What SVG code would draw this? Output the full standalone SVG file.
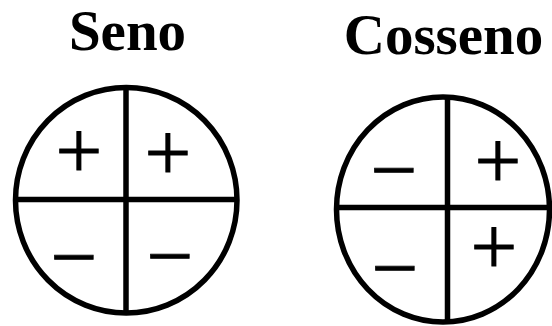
<svg xmlns="http://www.w3.org/2000/svg" width="552" height="326" viewBox="0 0 552 326">
<style>
.title{font-family:"Liberation Serif","Times New Roman",serif;font-weight:bold;font-size:57px;fill:#000;text-anchor:middle}
.sign{font-family:"Liberation Serif","Times New Roman",serif;font-size:83px;fill:#000;stroke:#000;stroke-width:0.8;text-anchor:middle}
.ring{fill:none;stroke:#000;stroke-width:5.5}
.axis{stroke:#000;stroke-width:5.5;fill:none}
</style>
<rect width="552" height="326" fill="#fff"/>
<g id="seno">
<text class="title" x="127.5" y="49.5">Seno</text>
<ellipse class="ring" cx="126.25" cy="200.25" rx="110.75" ry="112.75"/>
<text class="sign" x="79" y="178">+</text>
<text class="sign" x="168" y="180">+</text>
<text class="sign" x="74" y="285">−</text>
<text class="sign" x="170" y="283.5">−</text>
</g>
<g id="cosseno">
<text class="title" x="443.5" y="54">Cosseno</text>
<ellipse class="ring" cx="443" cy="209.5" rx="106.5" ry="112.5"/>
<text class="sign" x="394" y="197.5">−</text>
<text class="sign" x="498" y="188">+</text>
<text class="sign" x="395" y="295.5">−</text>
<text class="sign" x="494" y="273.5">+</text>
</g>
<g id="connectors">
<line class="axis" x1="126" y1="87.5" x2="126" y2="313"/>
<line class="axis" x1="15.5" y1="199.5" x2="237" y2="199.5"/>
<line class="axis" x1="447.5" y1="97" x2="447.5" y2="322"/>
<line class="axis" x1="336.5" y1="207.5" x2="552" y2="207.5"/>
</g>
</svg>
